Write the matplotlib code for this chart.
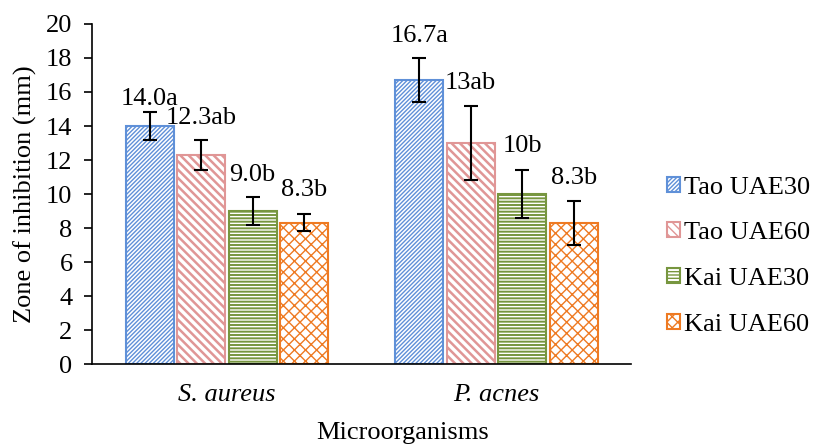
import numpy as np
import matplotlib.pyplot as plt

# Дані: зона пригнічення росту (мм)
organisms = ['S. aureus', 'P. acnes']
series = ['Tao UAE30', 'Tao UAE60', 'Kai UAE30', 'Kai UAE60']
tao30 = [14.0, 16.7]
tao60 = [12.3, 13.0]
kai30 = [9.0, 10.0]
kai60 = [8.3, 8.3]
tao30_err = [0.8, 1.3]
tao60_err = [0.9, 2.2]
kai30_err = [0.8, 1.4]
kai60_err = [0.5, 1.3]
labels_tao30 = ['14.0a', '16.7a']
labels_tao60 = ['12.3ab', '13ab']
labels_kai30 = ['9.0b', '10b']
labels_kai60 = ['8.3b', '8.3b']

values = [tao30, tao60, kai30, kai60]
errors = [tao30_err, tao60_err, kai30_err, kai60_err]
labels = [labels_tao30, labels_tao60, labels_kai30, labels_kai60]
colors = ['#5F90D8', '#E09696', '#77963F', '#EE7A22']
hatches = ['////////', '\\\\\\\\', '-----', 'xxx']
hatch_lw = [1.0, 1.8, 1.4, 1.0]

# відступ підписів над вусами похибки (одиниці осі y)
label_gap = [[0.8, 1.3], [1.25, 1.3], [1.3, 1.45], [1.45, 1.35]]

plt.rcParams['font.family'] = 'Liberation Serif'

fig = plt.figure(figsize=(8.21, 4.44), dpi=100)
ax = fig.add_axes([0.112, 0.180, 0.657, 0.766])

x = np.arange(len(organisms))
step = 0.191
width = 0.178
for i in range(len(series)):
    pos = x + (i - 1.5) * step
    plt.rcParams['hatch.linewidth'] = hatch_lw[i]
    bars = ax.bar(pos, values[i], width, facecolor='white', edgecolor=colors[i],
                  hatch=hatches[i], linewidth=1.5, label=series[i])
    for b in bars:
        if hasattr(b, 'set_hatch_linewidth'):
            b.set_hatch_linewidth(hatch_lw[i])
    ax.errorbar(pos, values[i], yerr=errors[i], fmt='none', ecolor='black',
                elinewidth=1.5, capsize=5, capthick=1.5)
    for p, v, e, t, g in zip(pos, values[i], errors[i], labels[i], label_gap[i]):
        ax.text(p, v + e + g, t, ha='center', va='center', fontsize=19)

ax.set_xlim(-0.5, 1.5)
ax.set_ylim(0, 20)
ax.set_yticks(range(0, 21, 2))
ax.tick_params(axis='y', labelsize=19, length=6, width=1.2, direction='out', pad=8)
ax.tick_params(axis='x', length=0, pad=14)
ax.set_xticks(x)
ax.set_xticklabels(organisms, fontsize=19, style='italic')
ax.set_ylabel('Zone of inhibition (mm)', fontsize=19)
ax.set_xlabel('Microorganisms', fontsize=19)
ax.yaxis.set_label_coords(-0.102, 0.5)
ax.xaxis.set_label_coords(0.575, -0.169)
for side in ['top', 'right']:
    ax.spines[side].set_visible(False)
for side in ['left', 'bottom']:
    ax.spines[side].set_linewidth(1.2)

fig.legend(loc='center left', bbox_to_anchor=(0.812, 0.423), frameon=False,
           fontsize=19, handlelength=0.5, handleheight=0.5, handletextpad=0.15,
           labelspacing=0.9, borderpad=0, borderaxespad=0)

fig.savefig('out.png', dpi=100)
